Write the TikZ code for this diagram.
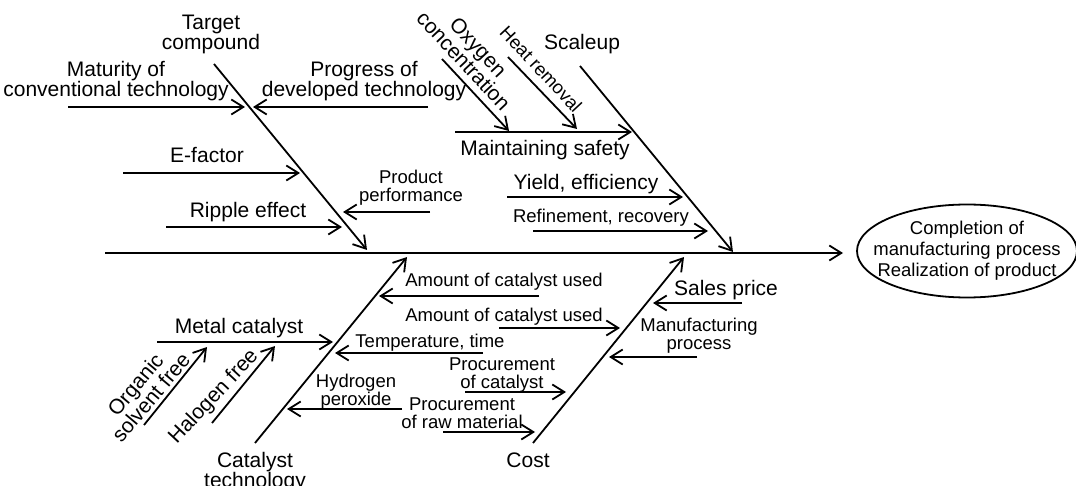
\documentclass[tikz,border=0pt]{standalone}
\usepackage{fontspec}
\setmainfont{Liberation Sans}
\usetikzlibrary{arrows.meta}
\usetikzlibrary{shapes.geometric}

\begin{document}
\begin{tikzpicture}[x=1pt, y=1pt, line width=1.8pt,
    tip/.style={-{Straight Barb[length=12pt,width=15pt]}},
    big/.style={font=\fontsize{21}{20}\selectfont, align=center, inner sep=0pt, anchor=base},
    small/.style={font=\fontsize{18.5}{18}\selectfont, align=center, inner sep=0pt, anchor=base}]
    \useasboundingbox (0,0) rectangle (1076,-486);

    % spine
    \coordinate (P1) at (105, -253);
    \coordinate (P2) at (843, -253);

    % target compound
    \coordinate (A1) at (214, -64);
    \coordinate (A2) at (367, -250);
    \coordinate (A3) at (68, -107);
    \coordinate (A4) at (245, -107);
    \coordinate (A5) at (428, -107);
    \coordinate (A6) at (253, -107);
    \coordinate (A7) at (123, -173);
    \coordinate (A8) at (300, -173);
    \coordinate (A9) at (430, -212);
    \coordinate (A10) at (343, -212);
    \coordinate (A11) at (166, -227);
    \coordinate (A12) at (342, -227);

    % scaleup
    \coordinate (B1) at (580, -66);
    \coordinate (B2) at (733, -252);
    \coordinate (B3) at (455, -132);
    \coordinate (B4) at (632, -132);
    \coordinate (B5) at (442, -59);
    \coordinate (B6) at (509, -131);
    \coordinate (B7) at (508, -57);
    \coordinate (B8) at (577, -129);
    \coordinate (B9) at (507, -197);
    \coordinate (B10) at (683, -197);
    \coordinate (B11) at (533, -231);
    \coordinate (B12) at (708, -231);

    % catalyst technology
    \coordinate (C1) at (255, -443);
    \coordinate (C2) at (407, -257);
    \coordinate (C3) at (539, -296);
    \coordinate (C4) at (379, -296);
    \coordinate (C5) at (157, -342);
    \coordinate (C6) at (333, -342);
    \coordinate (C7) at (144, -425);
    \coordinate (C8) at (207, -347);
    \coordinate (C9) at (212, -423);
    \coordinate (C10) at (275, -346);
    \coordinate (C11) at (483, -353);
    \coordinate (C12) at (335, -353);
    \coordinate (C13) at (402, -409);
    \coordinate (C14) at (287, -409);

    % cost
    \coordinate (D1) at (533, -443);
    \coordinate (D2) at (684, -257);
    \coordinate (D3) at (499, -328);
    \coordinate (D4) at (620, -328);
    \coordinate (D5) at (465, -392);
    \coordinate (D6) at (566, -392);
    \coordinate (D7) at (443, -432);
    \coordinate (D8) at (535, -432);
    \coordinate (D9) at (742, -303);
    \coordinate (D10) at (653, -303);
    \coordinate (D11) at (697, -357);
    \coordinate (D12) at (609, -357);

    \node[draw, ellipse, minimum width=220pt, minimum height=93pt,
        inner xsep=-16pt, inner ysep=0pt,
        font=\fontsize{18.5}{21}\selectfont, align=center] (E) at (967, -251)
        {Completion of\\manufacturing process\\Realization of product};

    \draw[tip] (P1) -- (P2);
    \foreach \a/\b in {A1/A2, A3/A4, A5/A6, A7/A8, A9/A10, A11/A12,
                       B1/B2, B3/B4, B5/B6, B7/B8, B9/B10, B11/B12,
                       C1/C2, C3/C4, C5/C6, C7/C8, C9/C10, C11/C12, C13/C14,
                       D1/D2, D3/D4, D5/D6, D7/D8, D9/D10, D11/D12}
        \draw[tip] (\a) -- (\b);

%labels (base = last line)
    \node[big] (L1) at (211, -50) {Target\\compound};
    \node[big] (L2) at (116, -97) {Maturity of\\conventional technology};
    \node[big] (L3) at (364, -97) {Progress of\\developed technology};
    \node[big] (L4) at (207, -163) {E-factor};
    \node[small] (L5) at (411, -202) {Product\\performance};
    \node[big] (L6) at (248, -218) {Ripple effect};

    \node[big] (L7) at (582, -50) {Scaleup};
    \node[big, anchor=center, rotate=-47] (L8) at (471, -54) {Oxygen\\concentration};
    \node[small, anchor=center, rotate=-47] (L9) at (541, -69) {Heat removal};
    \node[big] (L10) at (545, -156) {Maintaining safety};
    \node[big] (L11) at (586, -190) {Yield, efficiency};
    \node[small] (L12) at (601, -223) {Refinement, recovery};

    \node[big] (L13) at (255, -487) {Catalyst\\technology};
    \node[big] (L14) at (239, -333) {Metal catalyst};
    \node[big, anchor=center, rotate=50] (L15) at (143, -391) {Organic\\solvent free};
    \node[big, anchor=center, rotate=47] (L16) at (214, -397) {Halogen free};
    \node[small] (L17) at (504, -287) {Amount of catalyst used};
    \node[small] (L18) at (430, -347) {Temperature, time};
    \node[small] (L19) at (356, -405) {Hydrogen\\peroxide};

    \node[big] (L20) at (528, -467) {Cost};
    \node[small] (L21) at (504, -321) {Amount of catalyst used};
    \node[small] (L22) at (502, -388) {Procurement\\of catalyst};
    \node[small] (L23) at (462, -428) {Procurement\\of raw material};
    \node[big] (L24) at (726, -295) {Sales price};
    \node[small] (L25) at (699, -349) {Manufacturing\\process};

\end{tikzpicture}
\end{document}
